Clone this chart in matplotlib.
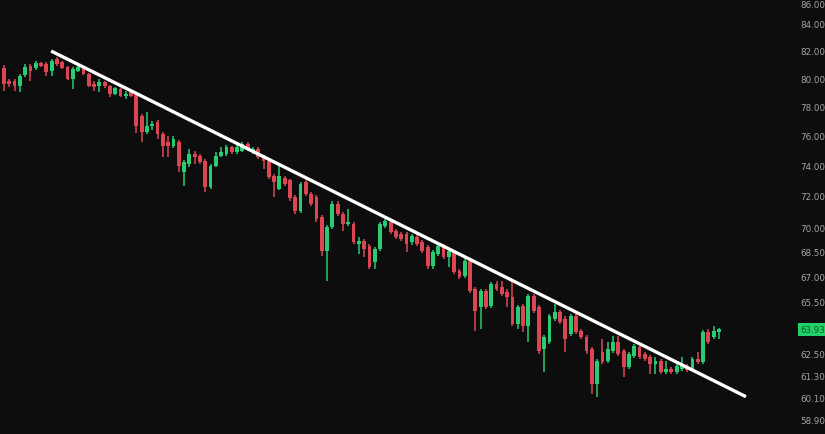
import numpy as np
import matplotlib
matplotlib.use("Agg")
import matplotlib.pyplot as plt
import matplotlib.transforms as mtransforms

# daily candles (open, high, low, close)
opens = [80.82, 79.89, 79.89, 79.53, 80.32, 80.97, 80.82, 81.19, 81.11, 80.61,
         81.48, 81.26, 80.89, 80.03, 80.61, 80.89, 80.39, 79.67, 79.53, 79.82,
         79.53, 78.96, 79.31, 78.82, 79.10, 78.89, 77.42, 76.32, 76.73, 77.00,
         76.18, 75.63, 75.36, 75.63, 73.63, 74.16, 74.83, 74.69, 74.36, 72.65,
         74.02, 74.69, 74.83, 75.30, 74.96, 75.03, 75.50, 74.96, 75.16, 74.63,
         74.36, 73.37, 72.52, 73.24, 73.11, 72.00, 71.10, 72.97, 72.19, 72.00,
         70.72, 68.60, 70.09, 71.55, 70.91, 70.27, 70.27, 69.03, 69.22, 68.91,
         67.92, 68.72, 70.15, 70.40, 69.84, 69.65, 69.65, 69.16, 69.47, 69.16,
         68.85, 67.68, 68.41, 68.91, 68.23, 68.54, 67.38, 67.08, 67.98, 66.30,
         65.24, 66.19, 65.30, 66.60, 66.42, 66.13, 65.83, 64.26, 65.30, 64.14,
         65.89, 65.24, 62.84, 63.23, 64.55, 64.95, 64.55, 63.69, 64.72, 63.86,
         63.52, 62.84, 60.90, 62.67, 62.16, 62.72, 63.23, 62.72, 61.83, 62.44,
         62.95, 62.55, 62.39, 62.00, 62.16, 61.55, 61.72, 61.55, 61.72, 61.88,
         61.72, 62.28, 62.11, 63.80, 63.52, 63.80]
highs = [81.04, 80.03, 80.03, 80.39, 81.11, 81.11, 81.33, 81.26, 81.26, 81.48,
         81.62, 81.33, 80.97, 80.89, 80.97, 80.97, 80.46, 79.89, 80.03, 79.89,
         79.60, 79.46, 79.38, 79.17, 79.24, 78.96, 77.56, 77.70, 77.07, 77.14,
         76.32, 76.04, 76.04, 75.77, 74.42, 75.16, 75.03, 74.83, 74.49, 74.16,
         74.96, 75.30, 75.43, 75.36, 75.43, 75.63, 75.63, 75.30, 75.30, 74.76,
         74.49, 73.50, 74.02, 73.37, 73.17, 72.13, 72.97, 73.11, 72.32, 72.13,
         70.85, 70.21, 71.74, 71.74, 71.04, 71.23, 70.40, 69.47, 69.34, 69.03,
         68.85, 70.40, 70.59, 70.53, 69.96, 69.78, 69.78, 69.65, 69.59, 69.28,
         68.97, 68.66, 69.03, 69.03, 68.72, 68.66, 67.50, 68.11, 68.11, 66.42,
         66.30, 66.30, 66.72, 66.78, 66.78, 66.30, 66.72, 65.36, 65.42, 66.01,
         66.01, 65.36, 63.63, 64.84, 65.42, 65.07, 64.72, 64.84, 64.84, 63.97,
         63.63, 62.95, 62.28, 63.40, 63.23, 63.57, 63.57, 62.84, 62.67, 63.12,
         63.06, 62.67, 62.50, 62.39, 62.28, 62.16, 61.83, 62.11, 62.39, 62.00,
         62.39, 62.67, 63.91, 63.97, 64.14, 64.03]
lows = [79.17, 79.46, 79.17, 79.10, 80.18, 79.89, 80.68, 80.89, 80.25, 80.25,
        80.97, 80.75, 79.96, 79.31, 80.54, 80.32, 79.46, 79.17, 79.10, 79.38,
        78.75, 78.89, 78.75, 78.61, 78.75, 76.25, 75.63, 76.18, 76.45, 75.84,
        74.63, 74.63, 75.23, 73.63, 72.71, 73.96, 74.16, 74.16, 72.32, 72.52,
        73.96, 74.63, 74.69, 74.83, 74.83, 74.96, 75.03, 74.83, 74.49, 73.83,
        73.17, 72.00, 72.45, 72.71, 71.74, 70.91, 70.98, 72.06, 71.42, 70.40,
        68.29, 66.78, 69.96, 70.78, 69.84, 70.15, 69.03, 68.41, 68.23, 67.50,
        67.50, 68.60, 70.02, 69.65, 69.34, 69.22, 68.54, 68.97, 68.91, 68.47,
        67.50, 67.50, 68.29, 68.11, 67.62, 67.20, 66.90, 66.96, 66.07, 63.86,
        63.97, 65.13, 65.19, 66.19, 65.89, 65.24, 64.14, 63.97, 63.80, 63.23,
        64.89, 62.55, 61.55, 63.12, 64.43, 64.26, 62.67, 63.57, 63.69, 63.40,
        62.55, 60.35, 60.19, 62.00, 62.05, 62.61, 62.44, 61.28, 61.72, 62.33,
        62.28, 62.16, 61.44, 61.44, 61.44, 61.44, 61.44, 61.44, 61.61, 61.55,
        61.61, 62.00, 62.00, 63.12, 63.40, 63.40]
closes = [79.67, 79.67, 79.53, 80.25, 80.89, 80.61, 81.19, 80.97, 80.54, 81.33,
          81.11, 80.82, 80.03, 80.75, 80.89, 80.39, 79.53, 79.46, 79.82, 79.53,
          78.96, 79.38, 78.82, 78.96, 78.82, 76.73, 76.32, 76.73, 76.87, 76.18,
          75.36, 75.36, 75.84, 74.02, 74.29, 74.83, 74.63, 74.29, 72.65, 74.02,
          74.69, 74.96, 75.30, 74.96, 75.30, 75.50, 75.16, 75.16, 74.63, 74.36,
          73.30, 72.97, 73.37, 72.84, 71.94, 71.10, 72.84, 72.19, 71.55, 70.59,
          68.60, 70.09, 71.55, 70.91, 70.27, 70.40, 69.16, 69.22, 68.72, 67.62,
          68.72, 70.27, 70.46, 69.78, 69.47, 69.34, 69.03, 69.53, 69.03, 68.60,
          67.68, 68.54, 68.91, 68.23, 68.60, 67.32, 67.02, 67.98, 66.19, 65.01,
          66.19, 65.24, 66.60, 66.30, 66.01, 65.83, 64.26, 65.24, 64.14, 65.89,
          65.01, 62.72, 63.52, 64.72, 64.95, 64.37, 63.40, 64.72, 63.80, 63.52,
          62.72, 60.90, 62.16, 62.11, 62.84, 63.23, 62.55, 61.83, 62.55, 63.01,
          62.39, 62.28, 62.00, 62.16, 61.55, 61.72, 61.55, 61.88, 61.88, 61.66,
          62.28, 62.11, 63.80, 63.23, 63.86, 63.93]

# hand drawn trendline (bar index, price)
trend_x = [8.9, 140.1]
trend_y = [82.06, 60.19]

price_ticks = [84.00, 82.00, 80.00, 78.00, 76.00, 74.00, 72.00, 70.00,
               68.50, 67.00, 65.50, 62.50, 61.30, 60.10, 58.90]
top_label = 86.00
last_price = 63.93

bg = '#0d0d0e'
up_col = '#2bcb72'
down_col = '#dc4653'
label_col = '#a3a5ab'

fig = plt.figure(figsize=(8.25, 4.35), dpi=100, facecolor=bg)
ax = fig.add_axes([0, 0, 1, 1])
ax.set_facecolor(bg)
ax.set_yscale('log')

idx = np.arange(len(closes))
o = np.array(opens)
c = np.array(closes)
cols = [up_col if cc >= oo else down_col for oo, cc in zip(o, c)]

ax.vlines(idx, lows, highs, colors=cols, linewidth=1.1, zorder=2)
bottoms = np.minimum(o, c)
heights = np.maximum(np.abs(c - o), 0.05)
ax.bar(idx, heights, bottom=bottoms, width=0.72, color=cols, linewidth=0, zorder=3)

ax.plot(trend_x, trend_y, color='white', linewidth=2.4, solid_capstyle='butt', zorder=4)

ax.set_xlim(-0.755, 155.02)
ax.set_ylim(58.21, 85.98)
ax.set_xticks([])
ax.set_yticks([])
ax.minorticks_off()
for s in ax.spines.values():
    s.set_visible(False)

trans = mtransforms.blended_transform_factory(ax.transAxes, ax.transData)
for p in price_ticks:
    ax.text(800 / 825, p, f'{p:.2f}', transform=trans, ha='left', va='center',
            fontsize=6.3, color=label_col)
# 86.00 sits right on the top edge in the screenshot; keep it just inside
ax.text(800 / 825, 0.998, f'{top_label:.2f}', transform=ax.transAxes, ha='left',
        va='top', fontsize=6.3, color=label_col)
ax.text(800 / 825, last_price, f'{last_price:.2f}', transform=trans, ha='left',
        va='center', fontsize=6.3, color='#0b5a2a',
        bbox=dict(boxstyle='square,pad=0.25', facecolor='#22d268', edgecolor='none'))

fig.savefig('out.png', dpi=100, facecolor=bg)
